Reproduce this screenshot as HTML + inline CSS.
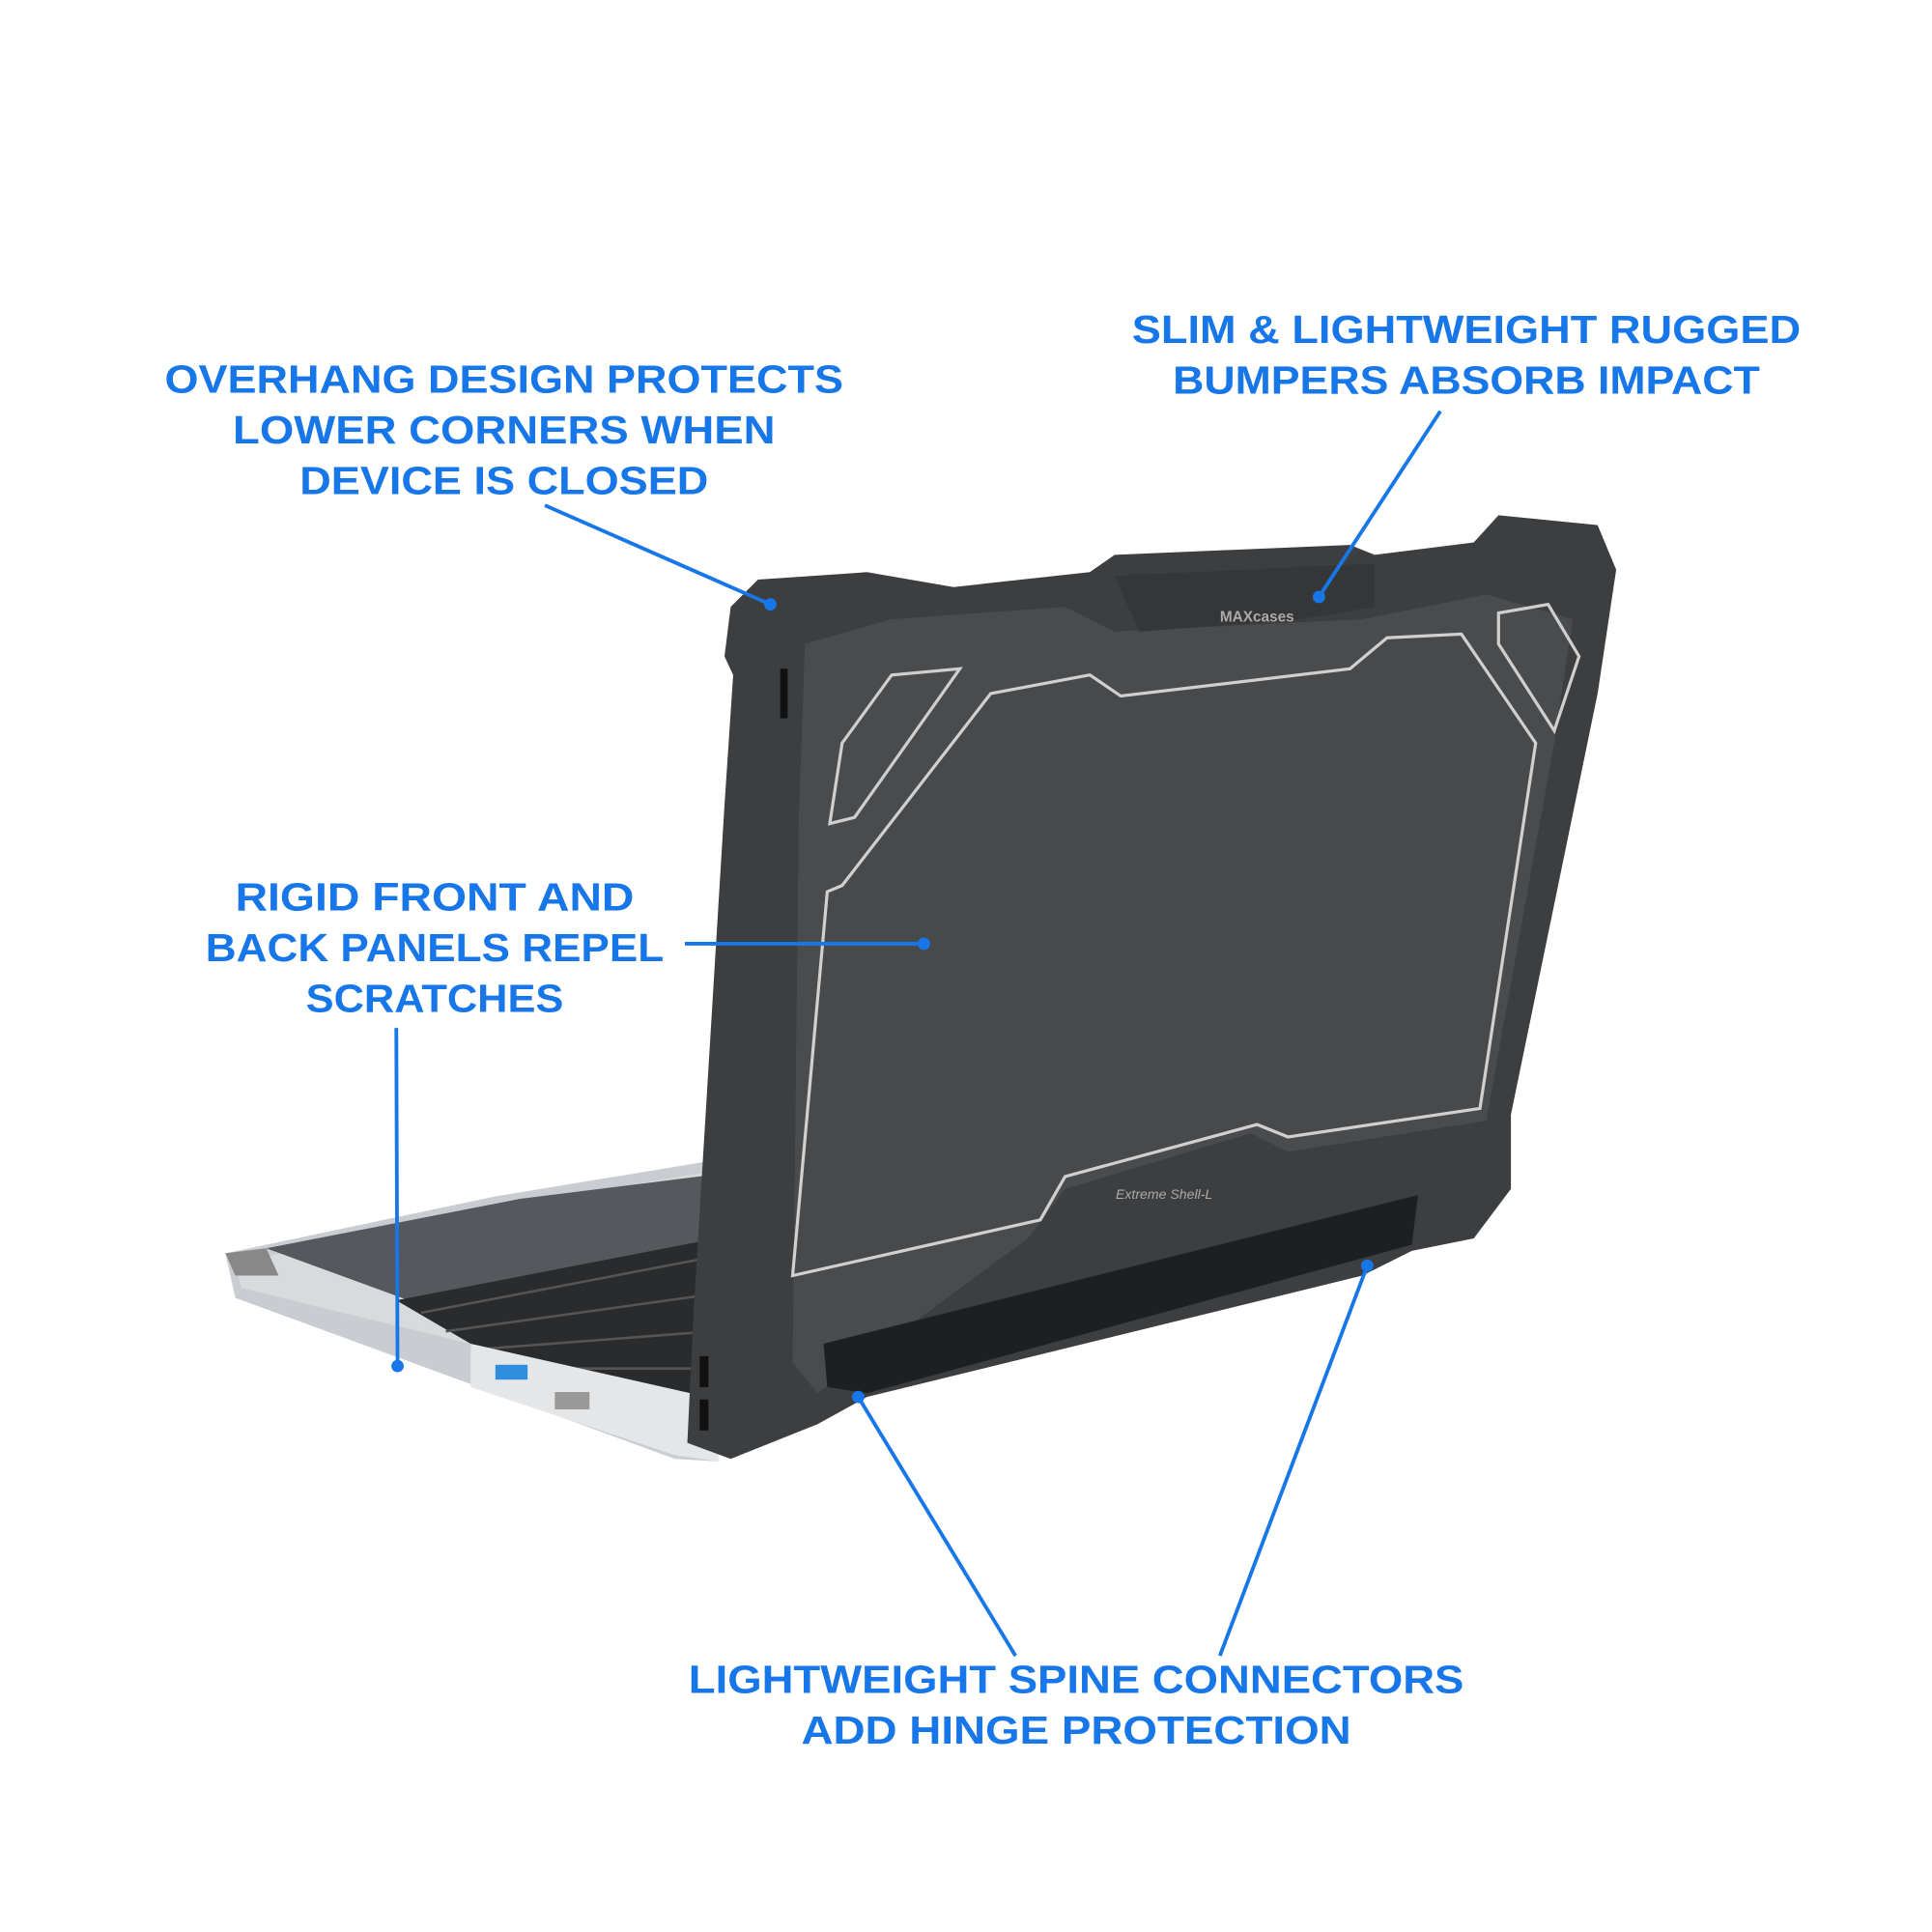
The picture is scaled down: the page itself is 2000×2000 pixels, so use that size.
<!DOCTYPE html>
<html><head><meta charset="utf-8"><style>
html,body{margin:0;padding:0;background:#fff;}
svg{display:block}
text{font-family:"Liberation Sans",sans-serif;font-weight:bold;fill:#1877e8;font-size:32px;text-anchor:middle;}
</style></head><body>
<svg width="2000" height="2000" viewBox="0 0 1560 1560" xmlns="http://www.w3.org/2000/svg">
<rect width="1560" height="1560" fill="#fff"/>
<polygon points="182,1012 400,966 582,936 580,1180 545,1178 190,1048" fill="#c9cdd1"/>
<polygon points="190,1020 400,975 580,945 578,1130 380,1085 195,1040" fill="#d8dbde"/>
<polygon points="215,1008 420,968 580,948 578,1000 330,1050" fill="#55585c"/>
<polygon points="320,1050 578,1000 578,1140 540,1140 380,1085" fill="#2a2b2d"/>
<g stroke="#555" stroke-width="2">
<line x1="340" y1="1060" x2="575" y2="1015"/><line x1="360" y1="1075" x2="575" y2="1045"/><line x1="380" y1="1090" x2="575" y2="1075"/><line x1="400" y1="1105" x2="575" y2="1105"/>
</g>
<polygon points="380,1085 580,1130 580,1180 545,1175 380,1120" fill="#e4e6e8"/>
<rect x="400" y="1102" width="26" height="12" fill="#2f8ee0"/>
<rect x="448" y="1124" width="28" height="14" fill="#999"/>
<polygon points="182,1012 215,1008 225,1030 190,1030" fill="#888"/>
<path d="M612,468 L700,462 L770,474 L880,462 L900,448 L1090,440 L1110,448 L1190,438 L1210,416 L1290,424 L1305,460 L1290,560 L1220,900 L1220,960 L1190,1000 L1140,1010 L1100,1030 L700,1128 L660,1150 L590,1178 L555,1165 L560,1060 L585,650 L592,545 L585,530 L590,490 Z" fill="#3d3e40"/>
<path d="M650,520 L720,500 L860,490 L900,510 L1100,500 L1200,480 L1270,500 L1255,600 L1200,905 L1040,930 L1010,915 L860,960 L830,1000 L660,1125 L640,1100 L645,660 Z" fill="#4a4b4d"/>
<path d="M680,715 L800,560 L880,545 L905,562 L1090,540 L1120,515 L1180,512 L1240,600 L1195,895 L1040,918 L1015,908 L860,950 L840,985 L640,1030 L668,720 Z" fill="#48494b" stroke="#d0d0d0" stroke-width="2.5"/>
<polygon points="665,1085 1145,965 1140,1005 700,1125 668,1120" fill="#1e1f20"/>
<polygon points="680,600 720,545 775,540 690,660 670,665" fill="none" stroke="#cfcfcf" stroke-width="2.5"/>
<polygon points="1210,495 1250,488 1275,530 1255,590 1210,520" fill="none" stroke="#cfcfcf" stroke-width="2.5"/>
<polygon points="900,465 1110,455 1110,490 1050,500 920,510" fill="#353638"/>
<text x="940" y="968" style="font-size:11px;fill:#aaa;font-weight:normal;font-style:italic">Extreme Shell-L</text>
<text x="1015" y="502" style="font-size:12px;fill:#aaa">MAXcases</text>
<rect x="630" y="540" width="6" height="40" fill="#111"/>
<rect x="565" y="1095" width="7" height="25" fill="#111"/>
<rect x="565" y="1130" width="7" height="25" fill="#111"/>
<g stroke="#1877e8" stroke-width="3" fill="none">
<line x1="440" y1="408" x2="622" y2="488"/>
<line x1="1163" y1="332" x2="1065" y2="482"/>
<line x1="553" y1="762" x2="746" y2="762"/>
<line x1="320" y1="830" x2="321" y2="1103"/>
<line x1="820" y1="1337" x2="693" y2="1128"/>
<line x1="985" y1="1337" x2="1104" y2="1022"/>
</g>
<g fill="#1877e8">
<circle cx="622" cy="488" r="5"/><circle cx="1065" cy="482" r="5"/><circle cx="746" cy="762" r="5"/>
<circle cx="321" cy="1103" r="5"/><circle cx="693" cy="1128" r="5"/><circle cx="1104" cy="1022" r="5"/>
</g>
<text x="407" y="317" textLength="548" lengthAdjust="spacingAndGlyphs">OVERHANG DESIGN PROTECTS</text>
<text x="407" y="358" textLength="438" lengthAdjust="spacingAndGlyphs">LOWER CORNERS WHEN</text>
<text x="407" y="399" textLength="330" lengthAdjust="spacingAndGlyphs">DEVICE IS CLOSED</text>
<text x="1184" y="277" textLength="540" lengthAdjust="spacingAndGlyphs">SLIM &amp; LIGHTWEIGHT RUGGED</text>
<text x="1184" y="318" textLength="474" lengthAdjust="spacingAndGlyphs">BUMPERS ABSORB IMPACT</text>
<text x="351" y="735" textLength="322" lengthAdjust="spacingAndGlyphs">RIGID FRONT AND</text>
<text x="351" y="776" textLength="370" lengthAdjust="spacingAndGlyphs">BACK PANELS REPEL</text>
<text x="351" y="817" textLength="208" lengthAdjust="spacingAndGlyphs">SCRATCHES</text>
<text x="869" y="1367" textLength="626" lengthAdjust="spacingAndGlyphs">LIGHTWEIGHT SPINE CONNECTORS</text>
<text x="869" y="1408" textLength="444" lengthAdjust="spacingAndGlyphs">ADD HINGE PROTECTION</text>
</svg>
</body></html>
